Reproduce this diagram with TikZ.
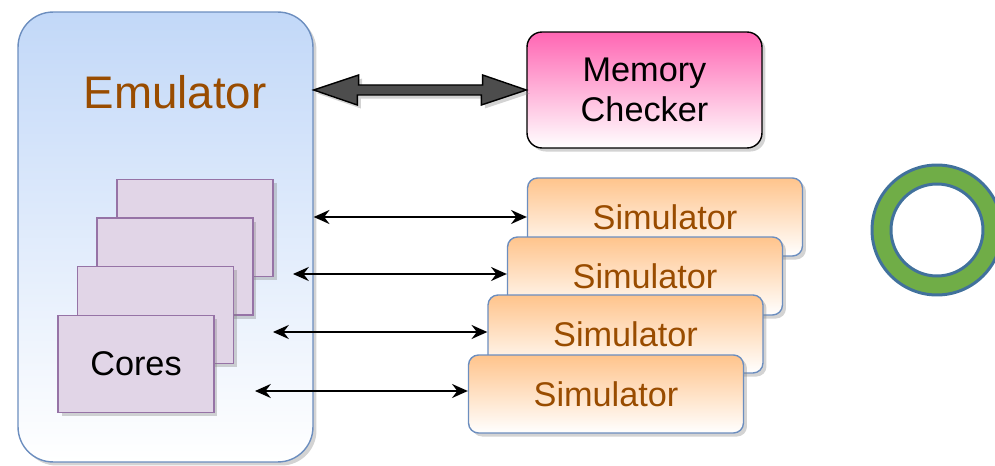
\documentclass[tikz,border=0pt]{standalone}
\usepackage{fontspec}
\setmainfont{Liberation Sans}
\usepackage{xcolor}
\usetikzlibrary{positioning,arrows.meta,shadows}
\definecolor{emutop}{RGB}{194,216,248}
\definecolor{emuline}{RGB}{108,142,191}
\definecolor{brownish}{RGB}{153,76,0}
\definecolor{corefill}{RGB}{225,213,231}
\definecolor{coreline}{RGB}{150,115,166}
\definecolor{memtop}{RGB}{255,102,179}
\definecolor{simtop}{RGB}{255,196,140}
\definecolor{ringgreen}{RGB}{112,173,71}
\definecolor{ringblue}{RGB}{65,113,156}
\definecolor{arrowgrey}{RGB}{77,77,77}

\begin{document}
\begin{tikzpicture}[x=0.02cm,y=-0.02cm,>={Stealth[length=9pt,width=8pt,inset=3pt]}]
\tikzstyle{shade}=[drop shadow={shadow xshift=2pt,shadow yshift=-2pt,opacity=0.35}]
\tikzstyle{emubox}=[rectangle,rounded corners=0.7cm,draw=emuline,line width=0.8pt,top color=emutop,bottom color=white,minimum width=5.9cm,minimum height=9cm,shade]
\tikzstyle{corebox}=[rectangle,draw=coreline,line width=0.8pt,fill=corefill,minimum width=3.12cm,minimum height=1.94cm,shade,font=\fontsize{19.5}{23}\selectfont]
\tikzstyle{memobox}=[rectangle,rounded corners=0.3cm,draw=black,line width=0.8pt,top color=memtop,bottom color=white,minimum width=4.7cm,minimum height=2.32cm,align=center,shade,font=\fontsize{19.5}{22.7}\selectfont]
\tikzstyle{simbox}=[rectangle,rounded corners=0.2cm,draw=emuline,line width=0.8pt,top color=simtop,bottom color=white,minimum width=5.5cm,minimum height=1.56cm,text=brownish,shade,font=\fontsize{19.5}{23}\selectfont]
\tikzstyle{link}=[<->,line width=0.9pt]
\useasboundingbox (0,0) rectangle (995,466);
% emulator with its cores
\node[emubox] (emu) at (165.5,237) {};
\node[text=brownish,font=\fontsize{26}{30}\selectfont] (emulabel) at (175,92) {Emulator};
\node[corebox] (core1) at (195,228) {};
\node[corebox] (core2) at (175,266.5) {};
\node[corebox] (core3) at (155.5,315) {};
\node[corebox] (core4) at (136,364) {Cores};
% memory checker
\node[memobox] (mem) at (644.5,90) {Memory\\Checker};
% simulators, back to front
\node[simbox] (sim1) at (665,217) {Simulator};
\node[simbox] (sim2) at (645,276) {Simulator};
\node[simbox] (sim3) at (625.5,334) {Simulator};
\node[simbox] (sim4) at (606,394) {Simulator};
% fat double arrow
\draw[line width=0.8pt,fill=arrowgrey,shade] (emu.east |- mem.west) -- ++(45,-15) -- ++(0,10) -- ++(124,0) -- ++(0,-10)
  -- (mem.west) -- ++(-45,15) -- ++(0,-10) -- ++(-124,0) -- ++(0,10) -- cycle;
% links to the simulators
\coordinate (e2) at (293,274);
\coordinate (e3) at (273,332);
\coordinate (e4) at (255,391);
\draw[link] (emu.east |- sim1.west) -- (sim1.west);
\draw[link] (e2) -- (e2 -| sim2.west);
\draw[link] (e3) -- (e3 -| sim3.west);
\draw[link] (e4) -- (e4 -| sim4.west);
% ring
\fill[ringgreen,draw=ringblue,line width=1.7pt,even odd rule] (937,230) circle[radius=1.3cm] (937,230) circle[radius=0.92cm];
\end{tikzpicture}
\end{document}
